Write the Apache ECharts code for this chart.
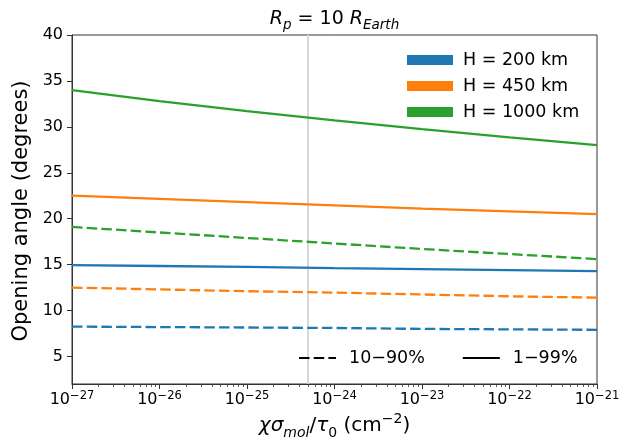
<!DOCTYPE html>
<html><head><meta charset="utf-8">
<script src="https://cdn.jsdelivr.net/npm/echarts@6/dist/echarts.min.js"></script>
<style>html,body{margin:0;padding:0;background:#fff}#c{width:635px;height:442px}</style>
</head><body><div id="c"></div>
<script>
// ---- data ----
const xValues = [1e-27, 1e-26, 1e-25, 1e-24, 1e-23, 1e-22, 1e-21];
const h200_1_99   = [14.95, 14.85, 14.75, 14.62, 14.5, 14.4, 14.3];
const h450_1_99   = [22.5, 22.15, 21.8, 21.45, 21.1, 20.8, 20.5];
const h1000_1_99  = [34.0, 32.8, 31.7, 30.7, 29.75, 28.85, 28.0];
const h200_10_90  = [8.25, 8.2, 8.15, 8.1, 8.0, 7.95, 7.9];
const h450_10_90  = [12.5, 12.3, 12.1, 11.95, 11.75, 11.55, 11.4];
const h1000_10_90 = [19.1, 18.5, 17.9, 17.3, 16.7, 16.15, 15.6];
const yTicks = [5, 10, 15, 20, 25, 30, 35, 40];
const decadeExps = [-27, -26, -25, -24, -23, -22];
const minorMantissas = [2, 3, 4, 5, 6, 7, 8, 9];
const refLineX = 5e-25;
const xMin = 1e-27, xMax = 1e-21;
const legendH = ['H = 200 km', 'H = 450 km', 'H = 1000 km'];
const legendStyle = ['10\u221290%', '1\u221299%'];

const colors = ['#1f77b4', '#ff7f0e', '#2ca02c'];
const FONT = 'DejaVu Sans';
const DASH = [10.5, 4.2];

// The log axis works in units of 1e-27 (ECharts rounds numbers below 1e-20 to 0).
const UNIT_EXP = 27;
const toAxis = v => v * Math.pow(10, UNIT_EXP);

const minorTicks = [];
decadeExps.forEach(e => minorMantissas.forEach(m => minorTicks.push(toAxis(Number(m + 'e' + e)))));

function pairs(ys) { return xValues.map((x, i) => [toAxis(x), ys[i]]); }

function lineSeries(name, ys, color, dashed) {
  return {
    name: name, type: 'line', data: pairs(ys), symbol: 'none', silent: true,
    lineStyle: { color: color, width: 2.3, type: dashed ? DASH : 'solid' },
    itemStyle: { color: color }, z: 3
  };
}

const series = [
  lineSeries(legendH[0], h200_1_99, colors[0], false),
  lineSeries(legendH[1], h450_1_99, colors[1], false),
  lineSeries(legendH[2], h1000_1_99, colors[2], false),
  lineSeries('H200 dashed', h200_10_90, colors[0], true),
  lineSeries('H450 dashed', h450_10_90, colors[1], true),
  lineSeries('H1000 dashed', h1000_10_90, colors[2], true),
  { name: legendStyle[0], type: 'line', data: [], symbol: 'none',
    lineStyle: { color: '#000', width: 2.3, type: DASH }, itemStyle: { color: '#000' } },
  { name: legendStyle[1], type: 'line', data: [], symbol: 'none',
    lineStyle: { color: '#000', width: 2.3, type: 'solid' }, itemStyle: { color: '#000' } }
];
series[0].markLine = {
  silent: true, symbol: 'none', label: { show: false },
  lineStyle: { color: '#d8d8d8', width: 2, type: 'solid' },
  data: [{ xAxis: toAxis(refLineX) }], z: 1
};

const supRich = {
  b: { fontFamily: FONT, fontSize: 16, color: '#000', lineHeight: 20 },
  s: { fontFamily: FONT, fontSize: 11.5, color: '#000', lineHeight: 10, verticalAlign: 'top' }
};

const chart = echarts.init(document.getElementById('c'), null, { renderer: 'canvas' });
chart.setOption({
  animation: false,
  backgroundColor: '#fff',
  grid: { left: 72, right: 38, top: 35, bottom: 58, show: true, borderColor: '#333', borderWidth: 1, backgroundColor: 'transparent' },
  xAxis: [{
    type: 'log', logBase: 10, min: toAxis(xMin), max: toAxis(xMax), position: 'bottom',
    axisLine: { show: true, lineStyle: { color: '#333', width: 1 } },
    axisTick: { show: true, inside: false, length: 5, lineStyle: { color: '#333', width: 1 } },
    splitLine: { show: false }, minorTick: { show: false },
    axisLabel: {
      margin: 6, color: '#000',
      formatter: v => '{b|10}{s|\u2212' + (UNIT_EXP - Math.round(Math.log10(v))) + '}',
      rich: supRich
    }
  }, {
    type: 'log', logBase: 10, min: toAxis(xMin), max: toAxis(xMax), position: 'bottom', gridIndex: 0,
    axisLine: { show: false }, axisLabel: { show: false }, splitLine: { show: false },
    axisTick: { show: true, length: 3, customValues: minorTicks, lineStyle: { color: '#333', width: 0.8 } }
  }],
  yAxis: {
    type: 'value', min: 2, max: 40,
    axisLine: { show: true, lineStyle: { color: '#333', width: 1 } },
    axisTick: { show: true, length: 5, customValues: yTicks, lineStyle: { color: '#333', width: 1 } },
    splitLine: { show: false },
    axisLabel: { customValues: yTicks, margin: 9, color: '#000', fontFamily: FONT, fontSize: 16 }
  },
  legend: [{
    data: legendH, left: 402, top: 45, orient: 'vertical', icon: 'rect',
    itemWidth: 46, itemHeight: 10, itemGap: 6, selectedMode: false,
    textStyle: { fontFamily: FONT, fontSize: 17.5, color: '#000', lineHeight: 20, padding: [0, 0, 0, 5] }
  }, {
    data: legendStyle, left: 293, top: 343, orient: 'horizontal',
    itemWidth: 37, itemHeight: 10, itemGap: 37, selectedMode: false,
    itemStyle: { color: 'rgba(0,0,0,0)', borderWidth: 0, opacity: 0 },
    textStyle: { fontFamily: FONT, fontSize: 17.5, color: '#000', lineHeight: 20, padding: [0, 0, 0, 8] }
  }],
  graphic: [{
    type: 'text', x: 334.5, y: 19, silent: true,
    style: {
      text: '{i|R}{sub|p}{n| = 10 }{i|R}{sub|Earth}', align: 'center', verticalAlign: 'middle',
      rich: {
        i: { fontFamily: FONT, fontStyle: 'italic', fontSize: 19, lineHeight: 26, fill: '#000' },
        n: { fontFamily: FONT, fontSize: 19, lineHeight: 26, fill: '#000' },
        sub: { fontFamily: FONT, fontStyle: 'italic', fontSize: 13.5, lineHeight: 14, verticalAlign: 'bottom', fill: '#000' }
      }
    }
  }, {
    type: 'text', x: 334.5, y: 426, silent: true,
    style: {
      text: '{i|\u03c7\u03c3}{sub|mol}{n|/}{i|\u03c4}{subn|0}{n| (cm}{sup|\u22122}{n|)}', align: 'center', verticalAlign: 'middle',
      rich: {
        i: { fontFamily: FONT, fontStyle: 'italic', fontSize: 20, lineHeight: 28, fill: '#000' },
        n: { fontFamily: FONT, fontSize: 20, lineHeight: 28, fill: '#000' },
        sub: { fontFamily: FONT, fontStyle: 'italic', fontSize: 14, lineHeight: 15, verticalAlign: 'bottom', fill: '#000' },
        subn: { fontFamily: FONT, fontSize: 14, lineHeight: 15, verticalAlign: 'bottom', fill: '#000' },
        sup: { fontFamily: FONT, fontSize: 14, lineHeight: 15, verticalAlign: 'top', fill: '#000' }
      }
    }
  }, {
    type: 'text', x: 22, y: 211, rotation: Math.PI / 2, silent: true,
    style: { text: 'Opening angle (degrees)', fontFamily: FONT, fontSize: 21, fill: '#000', align: 'center', verticalAlign: 'middle' }
  }],
  series: series
});
</script></body></html>
